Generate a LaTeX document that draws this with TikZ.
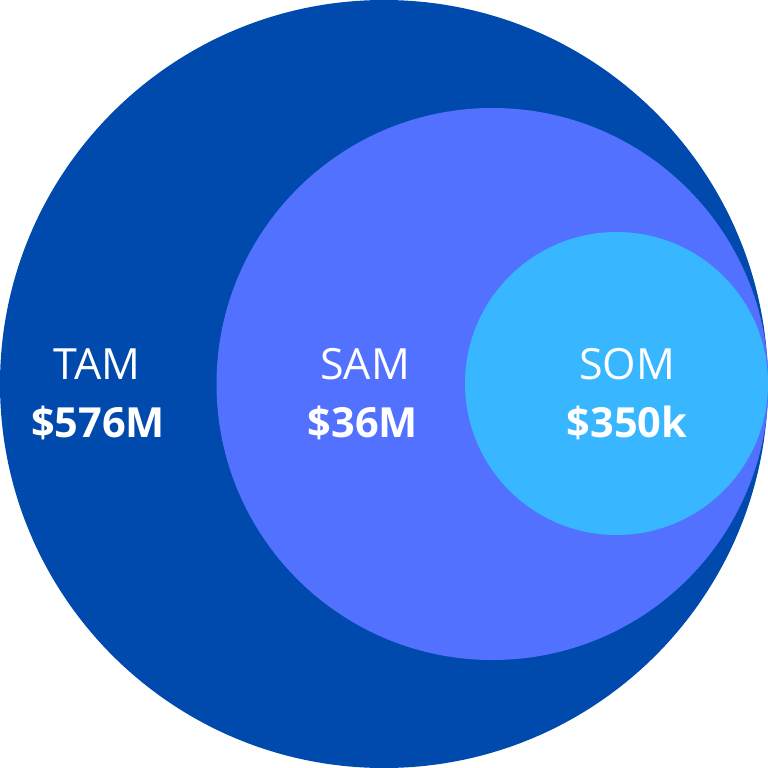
\documentclass[tikz,border=0pt]{standalone}
\usepackage{fontspec}
\setmainfont{Open Sans}
\definecolor{tamblue}{HTML}{004AAD}
\definecolor{samblue}{HTML}{5271FF}
\definecolor{somblue}{HTML}{38B6FF}
\begin{document}
\begin{tikzpicture}[x=1pt,y=-1pt,
  label/.style={text=white,anchor=base,inner sep=0pt,font=\fontsize{43}{43}\selectfont},
  value/.style={text=white,anchor=base,inner sep=0pt,font=\fontsize{41.5}{41.5}\selectfont\bfseries}]
  \useasboundingbox (0,0) rectangle (768,768);
  % nested market circles
  \fill[tamblue] (384,384) circle[radius=384];
  \fill[samblue] (492.5,384) circle[radius=276];
  \fill[somblue] (616.5,383.5) circle[radius=151.5];
  % labels
  \node[label] (tam) at (97,379) {TAM};
  \node[value] (tamv) at (98,437) {\$576M};
  \node[label] (sam) at (365,379) {SAM};
  \node[value] (samv) at (363,437) {\$36M};
  \node[label] (som) at (627,379) {SOM};
  \node[value] (somv) at (627,437) {\$350k};
\end{tikzpicture}
\end{document}
